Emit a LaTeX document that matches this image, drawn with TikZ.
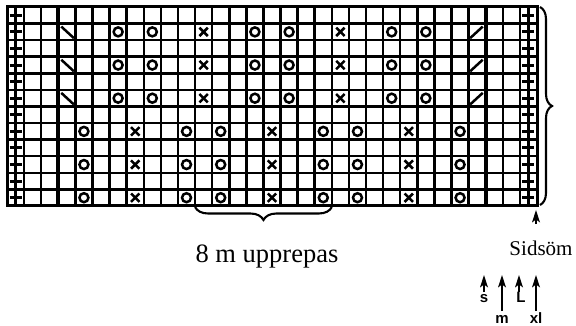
\documentclass[tikz,border=0pt]{standalone}
\usepackage{fontspec}
\setmainfont{Liberation Serif}
\newfontfamily\sizefont{Liberation Sans}
\usetikzlibrary{decorations.pathreplacing}
\begin{document}
\begin{tikzpicture}[x=1pt,y=-1pt,
  gridline/.style={line width=2.5pt,black},
  heavyline/.style={line width=4pt,black},
  borderline/.style={line width=3pt,black},
  symline/.style={line width=2.5pt,black},
  plusline/.style={line width=3pt,black},
  bracestyle/.style={decorate,line width=2.1pt},
  shaftline/.style={line width=2.1pt,black},
  sizelabel/.style={font=\sizefont\bfseries\fontsize{15}{17}\selectfont,inner sep=0pt}]
\useasboundingbox[fill=white] (0,0) rectangle (576,326);
\def\cw{17.097}
\def\rh{16.583}
\newcommand\uphead[1]{\fill[black] (#1) -- ++(-4,12.5) -- ++(4,-3) -- ++(4,3) -- cycle;}
% grid
\foreach \i in {0,...,31}
  \draw[gridline] ({7+\i*\cw},7) -- ({7+\i*\cw},206);
\foreach \j in {0,...,12}
  \draw[gridline] (7,{7+\j*\rh}) -- (537,{7+\j*\rh});
\draw[heavyline] ({7+3*\cw},7) -- ({7+3*\cw},206);
\draw[heavyline] ({7+28*\cw},7) -- ({7+28*\cw},206);
\draw[borderline] (7,7) rectangle (537,206);
% edge stitches
\foreach \c in {0,30}
  \foreach \r in {0,...,11} {
    \draw[plusline] ({7+(\c+0.5)*\cw-6},{7+(\r+0.5)*\rh}) -- ({7+(\c+0.5)*\cw+6},{7+(\r+0.5)*\rh});
    \draw[plusline] ({7+(\c+0.5)*\cw},{7+(\r+0.5)*\rh-7.5}) -- ({7+(\c+0.5)*\cw},{7+(\r+0.5)*\rh+7.5});
  }
% upper pattern rows
\foreach \r in {1,3,5} {
  \foreach \c in {6,8,14,16,22,24}
    \draw[symline] ({7+(\c+0.5)*\cw},{7+(\r+0.5)*\rh}) circle (4.5);
  \foreach \c in {11,19} {
    \draw[symline] ({7+(\c+0.5)*\cw-4.2},{7+(\r+0.5)*\rh-4.2}) -- ({7+(\c+0.5)*\cw+4.2},{7+(\r+0.5)*\rh+4.2});
    \draw[symline] ({7+(\c+0.5)*\cw-4.2},{7+(\r+0.5)*\rh+4.2}) -- ({7+(\c+0.5)*\cw+4.2},{7+(\r+0.5)*\rh-4.2});
  }
  \draw[symline] ({7+3*\cw+3},{7+\r*\rh+3}) -- ({7+4*\cw-1.5},{7+(\r+1)*\rh-2});
  \draw[symline] ({7+27*\cw+1.5},{7+(\r+1)*\rh-2}) -- ({7+28*\cw-3},{7+\r*\rh+3});
}
% lower pattern rows
\foreach \r in {7,9,11} {
  \foreach \c in {4,10,12,18,20,26}
    \draw[symline] ({7+(\c+0.5)*\cw},{7+(\r+0.5)*\rh}) circle (4.5);
  \foreach \c in {7,15,23} {
    \draw[symline] ({7+(\c+0.5)*\cw-4.2},{7+(\r+0.5)*\rh-4.2}) -- ({7+(\c+0.5)*\cw+4.2},{7+(\r+0.5)*\rh+4.2});
    \draw[symline] ({7+(\c+0.5)*\cw-4.2},{7+(\r+0.5)*\rh+4.2}) -- ({7+(\c+0.5)*\cw+4.2},{7+(\r+0.5)*\rh-4.2});
  }
}
% braces
\draw[bracestyle,decoration={brace,amplitude=13pt}] ({7+19*\cw},207) -- ({7+11*\cw},207);
\draw[bracestyle,decoration={brace,amplitude=12pt}] (540,7) -- (540,205);
% labels
\node[anchor=base,inner sep=0pt,font=\fontsize{26.5}{30}\selectfont] (repeat) at (267,262) {8 m upprepas};
\node[anchor=base,inner sep=0pt,font=\fontsize{21}{24}\selectfont] (seam) at (541,255) {Sidsöm};
% side seam arrow
\coordinate (seamtail) at (536,224);
\coordinate (seamtip) at (536,210);
\draw[shaftline] (seamtail) -- ([yshift=-5pt]seamtip);
\uphead{seamtip}
% size arrows
\coordinate (stail) at (484,292);  \coordinate (stip) at (484,275);
\coordinate (mtail) at (502,311);  \coordinate (mtip) at (502,275);
\coordinate (Ltail) at (519,292);  \coordinate (Ltip) at (519,275);
\coordinate (xltail) at (536,311); \coordinate (xltip) at (536,275);
\draw[shaftline] (stail) -- ([yshift=-5pt]stip);
\draw[shaftline] (mtail) -- ([yshift=-5pt]mtip);
\draw[shaftline] (Ltail) -- ([yshift=-5pt]Ltip);
\draw[shaftline] (xltail) -- ([yshift=-5pt]xltip);
\uphead{stip}
\uphead{mtip}
\uphead{Ltip}
\uphead{xltip}
\node[sizelabel,anchor=base] (slab) at (484,302) {s};
\node[sizelabel,anchor=base] (mlab) at (502,323) {m};
\node[sizelabel,anchor=base] (Llab) at (521,302) {L};
\node[sizelabel,anchor=base] (xllab) at (536,323) {xl};
\end{tikzpicture}
\end{document}
